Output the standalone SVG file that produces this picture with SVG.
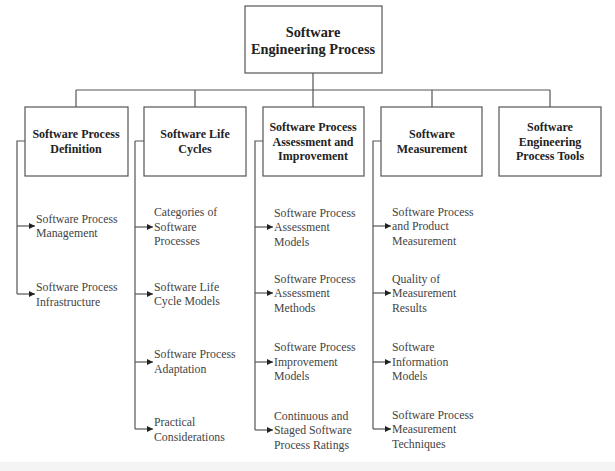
<svg xmlns="http://www.w3.org/2000/svg" width="615" height="471" viewBox="0 0 615 471">
<style>
.box{fill:#fff;stroke:#555;stroke-width:1.2}
.ln{fill:none;stroke:#555;stroke-width:1.2}
.t{font-family:"Liberation Serif","Times New Roman",serif;font-weight:bold;font-size:12px;fill:#222;text-anchor:middle}
.tt{font-family:"Liberation Serif","Times New Roman",serif;font-weight:bold;font-size:14.3px;fill:#222;text-anchor:middle}
.c{font-family:"Liberation Serif","Times New Roman",serif;font-size:11.8px;fill:#444}
</style>
<defs>
<marker id="ah" viewBox="0 0 10 10" refX="10" refY="5" markerWidth="7" markerHeight="6" markerUnits="userSpaceOnUse" orient="auto">
<path d="M0,0 L10,5 L0,10 Z" fill="#222"/>
</marker>
</defs>
<rect x="0" y="0" width="615" height="471" fill="#fff"/>
<rect x="0" y="462" width="615" height="9" fill="#f4f4f4"/>
<g id="connectors">
<path class="ln" d="M313,73 V90 M76,90 H550 M76,90 V107 M195,90 V107 M313,90 V107 M432,90 V107 M550,90 V107"/>
<path class="ln" d="M25,141 H17 V294 M135,141 H144 M135,141 V429 M263,141 H255 V430 M381,141 H373 V429"/>
<path class="ln" marker-end="url(#ah)" d="M17,226 H35"/>
<path class="ln" marker-end="url(#ah)" d="M17,294 H35"/>
<path class="ln" marker-end="url(#ah)" d="M135,227 H153"/>
<path class="ln" marker-end="url(#ah)" d="M135,294 H153"/>
<path class="ln" marker-end="url(#ah)" d="M135,362 H153"/>
<path class="ln" marker-end="url(#ah)" d="M135,429 H153"/>
<path class="ln" marker-end="url(#ah)" d="M255,227 H273"/>
<path class="ln" marker-end="url(#ah)" d="M255,293 H273"/>
<path class="ln" marker-end="url(#ah)" d="M255,362 H273"/>
<path class="ln" marker-end="url(#ah)" d="M255,430 H273"/>
<path class="ln" marker-end="url(#ah)" d="M373,226 H391"/>
<path class="ln" marker-end="url(#ah)" d="M373,293 H391"/>
<path class="ln" marker-end="url(#ah)" d="M373,362 H391"/>
<path class="ln" marker-end="url(#ah)" d="M373,429 H391"/>
</g>
<g id="root">
<rect class="box" x="245" y="6" width="137" height="67"/>
<text class="tt" x="313" y="37">Software</text>
<text class="tt" x="313" y="54">Engineering Process</text>
</g>
<g id="spd">
<rect class="box" x="25" y="107" width="103" height="69"/>
<text class="t" x="76" y="138">Software Process</text>
<text class="t" x="76" y="153">Definition</text>
</g>
<g id="slc">
<rect class="box" x="144" y="107" width="102" height="69"/>
<text class="t" x="195" y="138">Software Life</text>
<text class="t" x="195" y="153">Cycles</text>
</g>
<g id="spai">
<rect class="box" x="263" y="107" width="101" height="69"/>
<text class="t" x="313" y="131">Software Process</text>
<text class="t" x="313" y="145.5">Assessment and</text>
<text class="t" x="313" y="160">Improvement</text>
</g>
<g id="sm">
<rect class="box" x="381" y="107" width="101" height="69"/>
<text class="t" x="432" y="138">Software</text>
<text class="t" x="432" y="153">Measurement</text>
</g>
<g id="sept">
<rect class="box" x="499" y="107" width="102" height="69"/>
<text class="t" x="550" y="131">Software</text>
<text class="t" x="550" y="145.5">Engineering</text>
<text class="t" x="550" y="160">Process Tools</text>
</g>
<g id="spd-children">
<text class="c" x="36" y="223">Software Process</text>
<text class="c" x="36" y="237">Management</text>
<text class="c" x="36" y="291">Software Process</text>
<text class="c" x="36" y="305.5">Infrastructure</text>
</g>
<g id="slc-children">
<text class="c" x="154" y="216">Categories of</text>
<text class="c" x="154" y="230.5">Software</text>
<text class="c" x="154" y="245">Processes</text>
<text class="c" x="154" y="291">Software Life</text>
<text class="c" x="154" y="305">Cycle Models</text>
<text class="c" x="154" y="358">Software Process</text>
<text class="c" x="154" y="372.5">Adaptation</text>
<text class="c" x="154" y="426">Practical</text>
<text class="c" x="154" y="441">Considerations</text>
</g>
<g id="spai-children">
<text class="c" x="274" y="217">Software Process</text>
<text class="c" x="274" y="231">Assessment</text>
<text class="c" x="274" y="245.5">Models</text>
<text class="c" x="274" y="283">Software Process</text>
<text class="c" x="274" y="297">Assessment</text>
<text class="c" x="274" y="311.5">Methods</text>
<text class="c" x="274" y="351">Software Process</text>
<text class="c" x="274" y="365.5">Improvement</text>
<text class="c" x="274" y="380">Models</text>
<text class="c" x="274" y="419.5">Continuous and</text>
<text class="c" x="274" y="434">Staged Software</text>
<text class="c" x="274" y="448.5">Process Ratings</text>
</g>
<g id="sm-children">
<text class="c" x="392" y="216">Software Process</text>
<text class="c" x="392" y="230">and Product</text>
<text class="c" x="392" y="244.5">Measurement</text>
<text class="c" x="392" y="283">Quality of</text>
<text class="c" x="392" y="297">Measurement</text>
<text class="c" x="392" y="311.5">Results</text>
<text class="c" x="392" y="351">Software</text>
<text class="c" x="392" y="365.5">Information</text>
<text class="c" x="392" y="380">Models</text>
<text class="c" x="392" y="419">Software Process</text>
<text class="c" x="392" y="433">Measurement</text>
<text class="c" x="392" y="447.5">Techniques</text>
</g>
</svg>
